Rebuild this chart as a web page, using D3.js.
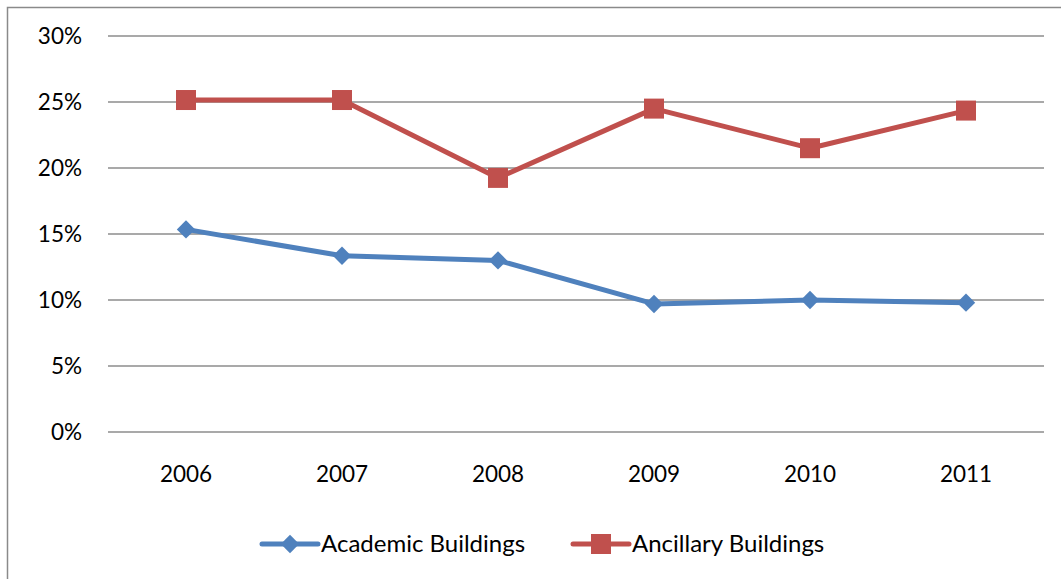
<!DOCTYPE html>
<html>
<head>
<meta charset="utf-8">
<script src="https://cdn.jsdelivr.net/npm/d3@7"></script>
<style>
  body { margin: 0; background: #fff; }
  svg { display: block; font-family: Lato, "Open Sans", sans-serif; }
</style>
</head>
<body>
<svg id="chart" width="1061" height="579"></svg>
<script>
// data
const years = ['2006', '2007', '2008', '2009', '2010', '2011'];
const academic = [15.35, 13.35, 13.0, 9.7, 10.0, 9.8];
const ancillary = [25.15, 25.15, 19.25, 24.5, 21.5, 24.35];
const yTicks = [0, 5, 10, 15, 20, 25, 30];
const seriesNames = ['Academic Buildings', 'Ancillary Buildings'];

const blue = '#4f81bd';
const red = '#c0504d';

const svg = d3.select('#chart');

// outer chart border (cut off at right and bottom in the original)
svg.append('path')
    .attr('d', 'M7.5,1100 V7.5 H1100')
    .attr('fill', 'none')
    .attr('stroke', '#8a8a8a')
    .attr('stroke-width', 1.5);

const x = d3.scaleBand()
    .domain(years)
    .range([108, 1044]);

const y = d3.scaleLinear()
    .domain([0, 30])
    .range([432, 36]);

// gridlines
svg.append('g')
    .selectAll('line')
    .data(yTicks)
    .join('line')
    .attr('x1', 108)
    .attr('x2', 1044)
    .attr('y1', d => y(d))
    .attr('y2', d => y(d))
    .attr('stroke', '#8c8c8c')
    .attr('stroke-width', 1.6);

// y axis labels
const yAxis = d3.axisLeft(y)
    .tickValues(yTicks)
    .tickFormat(d => d + '%')
    .tickSize(0)
    .tickPadding(26);
svg.append('g')
    .attr('transform', 'translate(108,0)')
    .call(yAxis)
    .call(g => g.select('.domain').remove())
    .selectAll('text')
    .attr('font-size', 22.5)
    .attr('font-family', 'Lato, "Open Sans", sans-serif')
    .attr('fill', '#000');

// x axis labels
const xAxis = d3.axisBottom(x)
    .tickSize(0)
    .tickPadding(34);
svg.append('g')
    .attr('transform', 'translate(0,432)')
    .call(xAxis)
    .call(g => g.select('.domain').remove())
    .selectAll('text')
    .attr('font-size', 22.5)
    .attr('font-family', 'Lato, "Open Sans", sans-serif')
    .attr('fill', '#000');

const cx = d => x(d) + x.bandwidth() / 2;
const line = d3.line()
    .x(d => cx(d.year))
    .y(d => y(d.value));

const academicData = years.map((yr, i) => ({ year: yr, value: academic[i] }));
const ancillaryData = years.map((yr, i) => ({ year: yr, value: ancillary[i] }));

// ancillary line + squares
svg.append('path')
    .datum(ancillaryData)
    .attr('d', line)
    .attr('fill', 'none')
    .attr('stroke', red)
    .attr('stroke-width', 5)
    .attr('stroke-linejoin', 'round');
svg.append('g')
    .selectAll('rect')
    .data(ancillaryData)
    .join('rect')
    .attr('x', d => cx(d.year) - 10)
    .attr('y', d => y(d.value) - 10)
    .attr('width', 20)
    .attr('height', 20)
    .attr('fill', red);

// academic line + diamonds
svg.append('path')
    .datum(academicData)
    .attr('d', line)
    .attr('fill', 'none')
    .attr('stroke', blue)
    .attr('stroke-width', 5)
    .attr('stroke-linejoin', 'round');
const diamond = d3.symbol().type(d3.symbolDiamond2).size(215);
svg.append('g')
    .selectAll('path')
    .data(academicData)
    .join('path')
    .attr('transform', d => `translate(${cx(d.year)},${y(d.value)})`)
    .attr('d', diamond)
    .attr('fill', blue);

// legend
const legend = svg.append('g');
const legendItems = [
    { name: seriesNames[0], color: blue, x0: 262, shape: 'diamond' },
    { name: seriesNames[1], color: red, x0: 573, shape: 'square' }
];
const ly = 544;
const keyLen = 56;
legendItems.forEach(item => {
    legend.append('line')
        .attr('x1', item.x0)
        .attr('x2', item.x0 + keyLen)
        .attr('y1', ly)
        .attr('y2', ly)
        .attr('stroke', item.color)
        .attr('stroke-width', 5)
        .attr('stroke-linecap', 'round');
    if (item.shape === 'square') {
        legend.append('rect')
            .attr('x', item.x0 + keyLen / 2 - 10)
            .attr('y', ly - 10)
            .attr('width', 20)
            .attr('height', 20)
            .attr('fill', item.color);
    } else {
        legend.append('path')
            .attr('transform', `translate(${item.x0 + keyLen / 2},${ly})`)
            .attr('d', diamond)
            .attr('fill', item.color);
    }
    legend.append('text')
        .attr('x', item.x0 + keyLen + 3)
        .attr('y', ly)
        .attr('dy', '0.35em')
        .attr('font-size', 24)
        .attr('fill', '#000')
        .text(item.name);
});
</script>
</body>
</html>
